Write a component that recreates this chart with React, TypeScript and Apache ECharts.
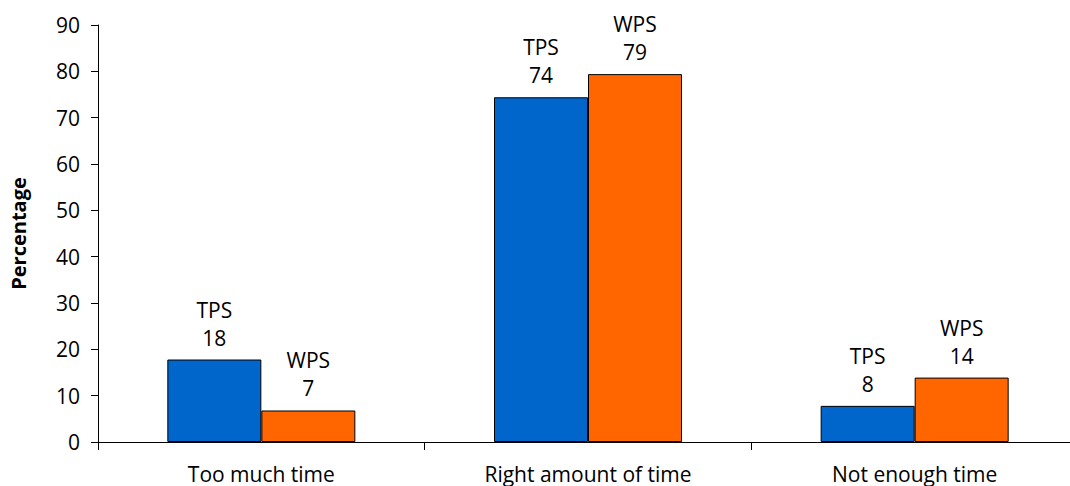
import React, { useEffect, useRef } from "react";
import * as echarts from "echarts";

const categories = ["Too much time", "Right amount of time", "Not enough time"];
const tpsValues = [17.8, 74.4, 7.8];
const wpsValues = [6.8, 79.4, 13.9];
const seriesNames = ["TPS", "WPS"];
const yTicks = { min: 0, max: 90, interval: 10 };

const FONT = "Open Sans";
const FS = 21;

export default function App() {
  const ref = useRef<HTMLDivElement>(null);
  useEffect(() => {
    if (!ref.current) return;
    const chart = echarts.init(ref.current, null, { renderer: "svg" });
    const label = (name: string) => ({
      show: true,
      position: "top",
      distance: 8,
      color: "#000",
      fontFamily: FONT,
      fontSize: FS,
      lineHeight: 28,
      formatter: (p: any) => `${name}\n${Math.round(p.value)}`,
    });
    chart.setOption({
      animation: false,
      backgroundColor: "#fff",
      textStyle: { fontFamily: FONT },
      grid: { left: 98, top: 25, right: -8, bottom: 44, outerBoundsMode: "none", containLabel: false },
      xAxis: {
        type: "category",
        data: categories,
        axisLine: { lineStyle: { color: "#000", width: 1 } },
        axisTick: { show: true, alignWithLabel: false, length: 8, lineStyle: { color: "#000" } },
        axisLabel: { color: "#000", fontSize: FS, fontFamily: FONT, margin: 21 },
      },
      yAxis: {
        type: "value",
        min: yTicks.min,
        max: yTicks.max,
        interval: yTicks.interval,
        name: "Percentage",
        nameLocation: "middle",
        nameGap: 70,
        nameTextStyle: { color: "#000", fontWeight: "bold", fontSize: 20, fontFamily: FONT },
        axisLine: { show: true, lineStyle: { color: "#000", width: 1 } },
        axisTick: { show: true, length: 7, lineStyle: { color: "#000" } },
        axisLabel: { color: "#000", fontSize: FS, fontFamily: FONT, margin: 18 },
        splitLine: { show: false },
      },
      series: [
        {
          name: seriesNames[0],
          type: "bar",
          data: tpsValues,
          barWidth: 94,
          barGap: "0%",
          itemStyle: { color: "#0066CC", borderColor: "#000", borderWidth: 1 },
          label: label(seriesNames[0]),
        },
        {
          name: seriesNames[1],
          type: "bar",
          data: wpsValues,
          barWidth: 94,
          barGap: "0%",
          itemStyle: { color: "#FF6600", borderColor: "#000", borderWidth: 1 },
          label: label(seriesNames[1]),
        },
      ],
    });
    return () => chart.dispose();
  }, []);
  return (
    <div
      ref={ref}
      style={{ position: "fixed", left: 0, top: 0, width: 1070, height: 486 }}
    />
  );
}
